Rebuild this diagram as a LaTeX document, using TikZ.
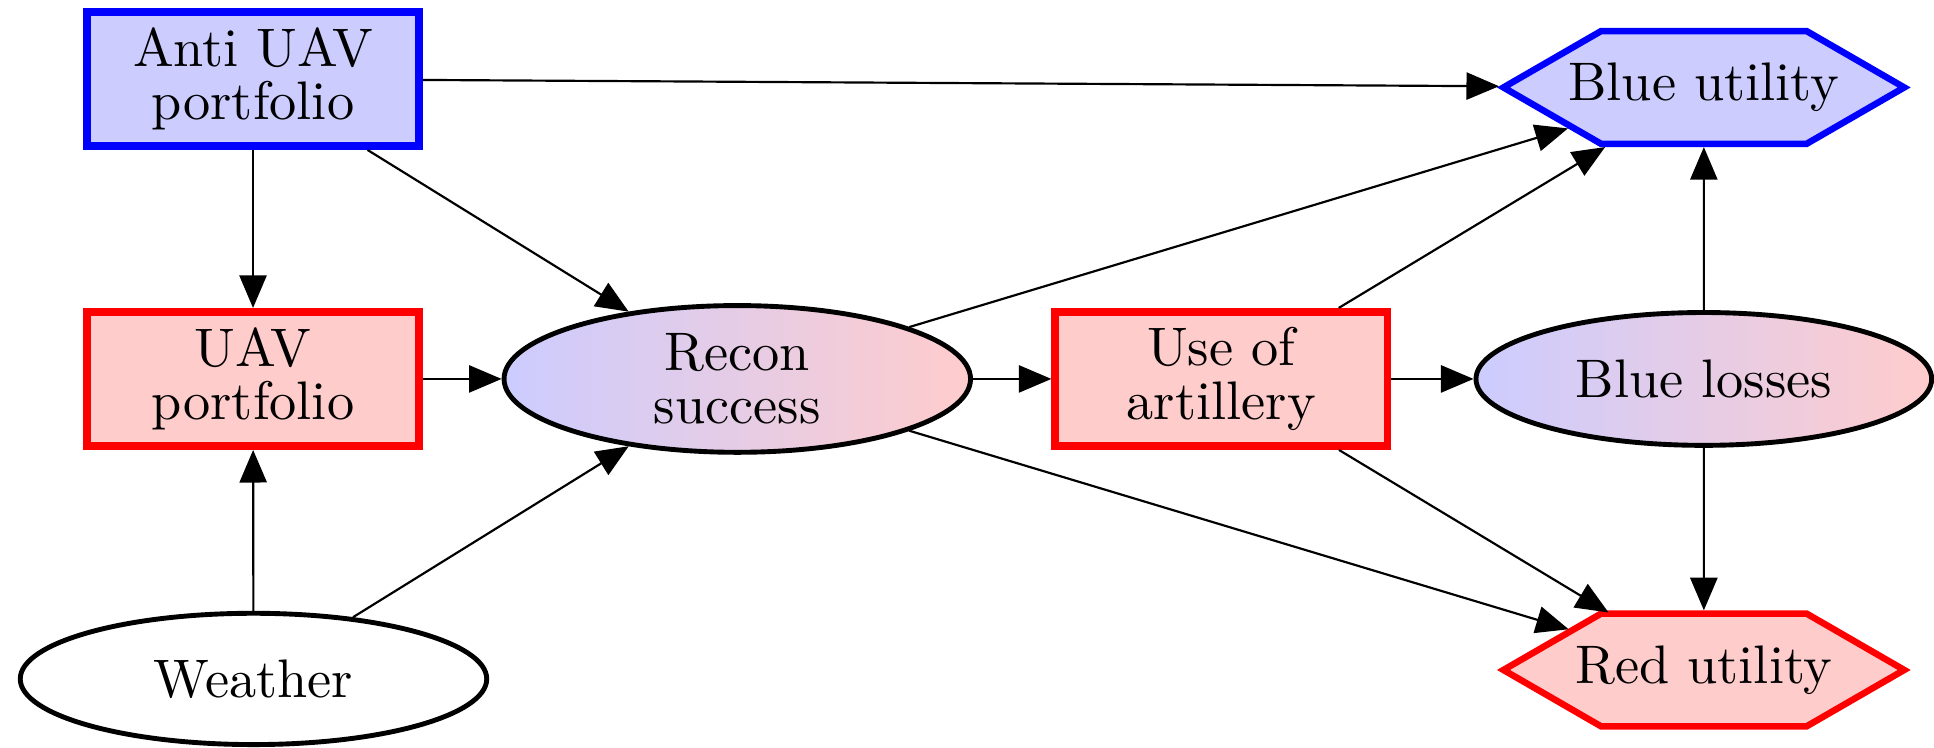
\documentclass[tikz,border=0pt]{standalone}
\usepackage{tikz}
\usetikzlibrary{shapes.geometric,shapes.symbols,arrows.meta}

\begin{document}
\begin{tikzpicture}[
    every node/.style={align=center, font=\fontsize{10}{9.8}\selectfont},
    decision/.style={rectangle, line width=1.4pt, minimum width=2.15cm, minimum height=0.87cm, inner sep=0pt},
    oval/.style={ellipse, draw=black, line width=0.9pt, minimum width=3.02cm, inner xsep=0pt, inner ysep=-5pt},
    chance/.style={oval, left color=blue!20, right color=red!20},
    utility/.style={signal, signal to=east and west, signal pointer angle=60, line width=1.2pt, text width=1.79cm, minimum height=0.73cm, inner xsep=-0.23cm, inner ysep=0pt},
    arr/.style={-{Triangle[length=6pt,width=5pt]}}
]
    % Fix the size of the picture
    \useasboundingbox (0,0) rectangle (12.52,-4.84);

    % Decision nodes
    \node[decision, draw=blue, fill=blue!20] (anti) at (1.638,-0.511) {Anti UAV\\portfolio};
    \node[decision, draw=red, fill=red!20] (uav) at (1.638,-2.453) {UAV\\portfolio};
    \node[decision, draw=red, fill=red!20] (art) at (7.906,-2.453) {Use of\\artillery};

    % Chance nodes
    \node[oval, fill=white, minimum height=0.85cm] (weather) at (1.641,-4.395) {Weather};
    \node[chance, minimum height=0.95cm] (recon) at (4.773,-2.453) {Recon\\success};
    \node[chance, minimum height=0.86cm, minimum width=2.95cm] (losses) at (11.03,-2.453) {Blue losses};

    % Utility nodes
    \node[utility, draw=blue, fill=blue!20] (bu) at (11.03,-0.566) {Blue utility};
    \node[utility, draw=red, fill=red!20] (ru) at (11.03,-4.337) {Red utility};

    % Draw the arrows
    \draw[arr] (anti) -- (bu);
    \draw[arr] (anti) -- (uav);
    \draw[arr] (anti) -- (recon);
    \draw[arr] (uav) -- (recon);
    \draw[arr] (weather) -- (uav);
    \draw[arr] (weather) -- (recon);
    \draw[arr] (recon) -- (bu);
    \draw[arr] (recon) -- (art);
    \draw[arr] (recon) -- (ru);
    \draw[arr] (art) -- (bu);
    \draw[arr] (art) -- (losses);
    \draw[arr] (art) -- (ru);
    \draw[arr] (losses) -- (bu);
    \draw[arr] (losses) -- (ru);
\end{tikzpicture}
\end{document}
